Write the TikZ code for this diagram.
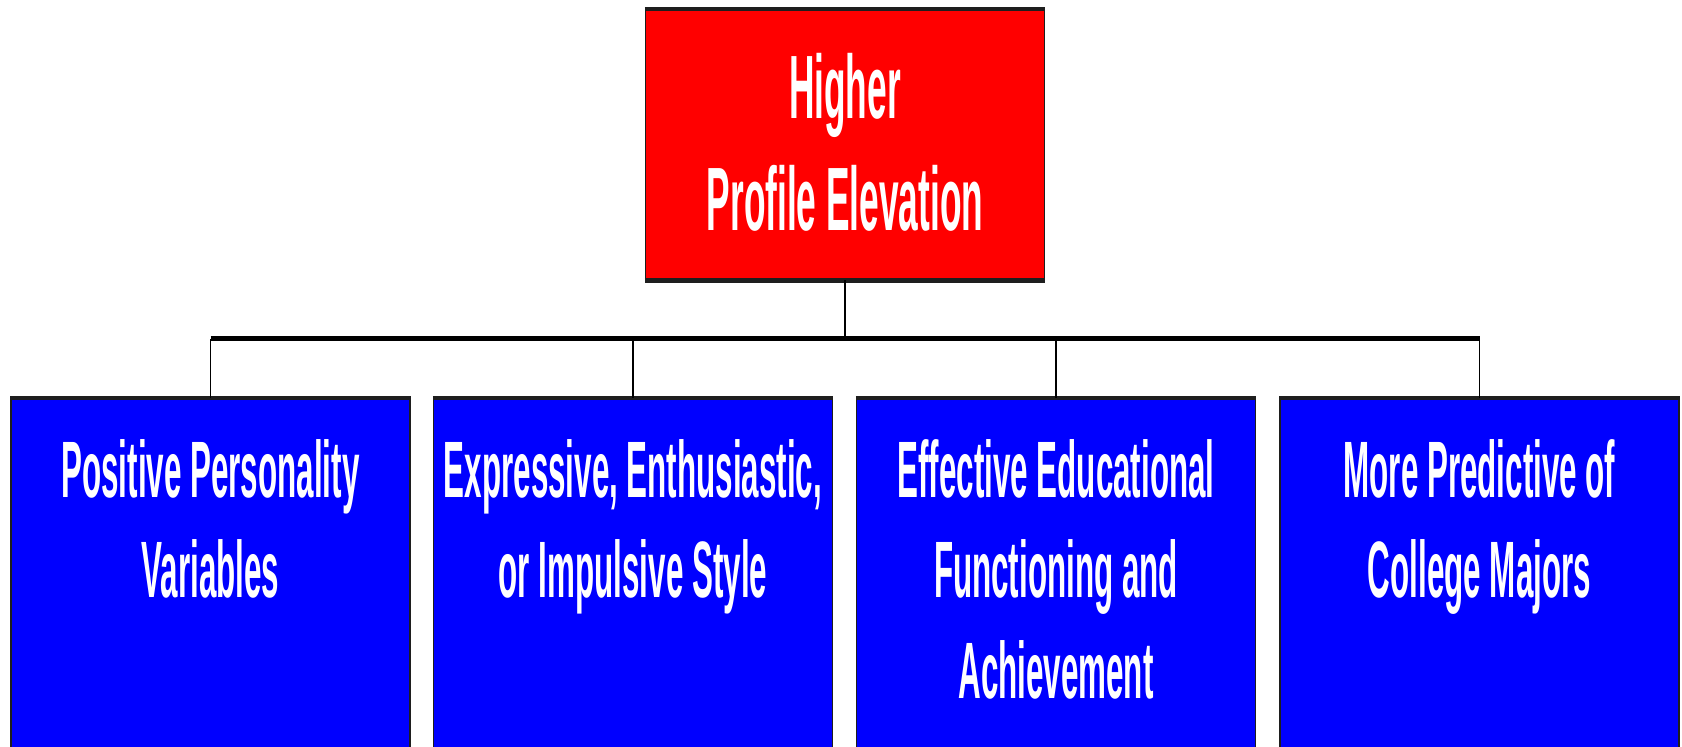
\documentclass[tikz,border=0pt]{standalone}
\usepackage{fontspec}
\newfontfamily\chartfont{Liberation Sans}[FakeStretch=0.392]
\definecolor{boxred}{RGB}{255,0,0}
\definecolor{boxblue}{RGB}{0,0,255}
\definecolor{edgegray}{RGB}{30,30,30}
\tikzset{
  chartbox/.style={rectangle, draw=edgegray, line width=1.5pt, inner sep=0pt, minimum width=399pt},
  topbox/.style={chartbox, fill=boxred, minimum height=270pt},
  subbox/.style={chartbox, fill=boxblue, minimum height=400pt},
  thickedge/.style={draw=edgegray, line width=4.5pt},
  linkthin/.style={draw=black, line width=1.5pt},
  linkbar/.style={draw=black, line width=4.5pt},
  toptext/.style={anchor=base, inner sep=0pt, text=white, font=\chartfont\bfseries\fontsize{90}{112}\selectfont},
  subtext/.style={anchor=base, inner sep=0pt, text=white, font=\chartfont\bfseries\fontsize{80}{100.5}\selectfont},
}
\newcommand{\chartlines}[1]{\begin{tabular}[t]{@{}c@{}}#1\end{tabular}}
\begin{document}
\begin{tikzpicture}[x=1pt,y=-1pt]
\clip (0,0) rectangle (1682,747);
\fill[white] (0,0) rectangle (1682,747);
% top box
\node[topbox] (top) at (845,144.5) {};
\draw[thickedge] (top.north west) -- (top.north east);
\draw[thickedge] (top.south west) -- (top.south east);
\node[toptext] (toptxt) at (845,118) {\chartlines{Higher\\Profile Elevation}};
% sub boxes
\node[subbox, anchor=north] (b1) at (210.5,398) {};
\node[subbox, anchor=north] (b2) at (633,398) {};
\node[subbox, anchor=north] (b3) at (1056,398) {};
\node[subbox, anchor=north] (b4) at (1479.5,398) {};
\foreach \b in {b1,b2,b3,b4}{
  \draw[thickedge] (\b.north west) -- (\b.north east);
}
\node[subtext] (t1) at (210.5,497) {\chartlines{Positive Personality\\Variables}};
\node[subtext] (t2) at (633,497) {\chartlines{Expressive, Enthusiastic,\\or Impulsive Style}};
\node[subtext] (t3) at (1056,497) {\chartlines{Effective Educational\\Functioning and\\Achievement}};
\node[subtext] (t4) at (1479.5,497) {\chartlines{More Predictive of\\College Majors}};
% connectors
\coordinate (busL) at (210.5,338.5);
\coordinate (busR) at (1479.5,338.5);
\coordinate (busM) at (845,338.5);
\draw[linkthin] (top.south) -- (busM);
\draw[linkbar] (busL) -- (busR);
\draw[linkthin] (busL) -- (b1.north);
\draw[linkthin] (b2.north |- busL) -- (b2.north);
\draw[linkthin] (b3.north |- busL) -- (b3.north);
\draw[linkthin] (busR) -- (b4.north);
\end{tikzpicture}
\end{document}
